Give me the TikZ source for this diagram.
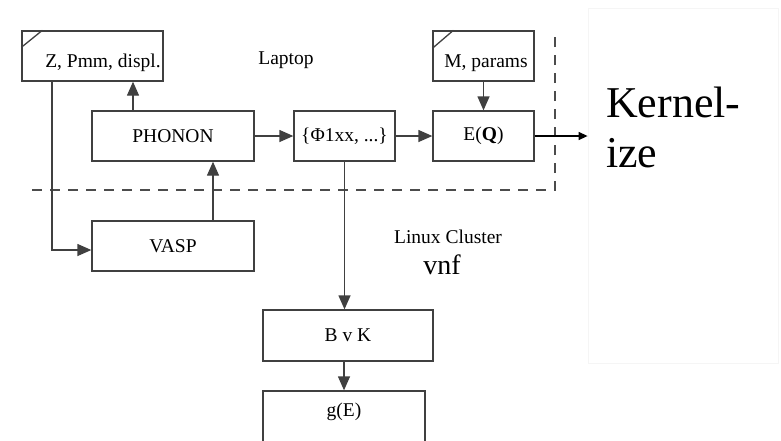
\documentclass[tikz,border=0pt]{standalone}
\usepackage{fontspec}
\setmainfont{Liberation Serif}
\usetikzlibrary{arrows.meta}
\begin{document}
\begin{tikzpicture}[x=1pt,y=-1pt,
  ln/.style={draw=black!75,line width=1.3pt},
  box/.style={ln,rectangle,inner sep=0pt,minimum height=50pt,font=\fontsize{19.5}{22}\selectfont},
  txt/.style={inner sep=0pt,font=\fontsize{19.5}{22}\selectfont},
  arr/.style={ln,-{Triangle[length=14pt,width=12pt]}},
  fence/.style={draw=black!70,line width=1.1pt,dash pattern=on 10pt off 8pt}]
\useasboundingbox (0,0) rectangle (781,440);

% outer panel on the right
\node[draw=black!4,line width=0.8pt,minimum width=190pt,minimum height=355pt,inner sep=0pt] (kern) at (683,185.5) {};
\node[anchor=base west,inner sep=0pt,align=left,font=\fontsize{44}{50}\selectfont] (ktxt) at (606,167) {Kernel-\\ize};

% laptop boxes
\node[box,minimum width=141pt] (zbox) at (92.5,56) {};
\node[txt] (ztxt) at (103,63) {Z, Pmm, displ.};
\node[box,minimum width=101pt] (mbox) at (483.5,56) {};
\node[txt] (mtxt) at (486,63) {M, params};
\node[box,minimum width=162pt] (phonon) at (173,136) {PHONON};
\node[box,minimum width=101pt] (phi) at (344.5,136) {\{Φ1xx, ...\}};
\node[box,minimum width=101pt] (eq) at (483.5,136) {E(\textbf{Q})};

% cluster boxes
\node[box,minimum width=162pt] (vasp) at (173,246) {VASP};
\node[box,minimum width=170pt,minimum height=51pt] (bvk) at (348,335.5) {B v K};
\node[box,minimum width=162pt,minimum height=70pt,text depth=32pt] (ge) at (344,426) {g(E)};

% corner marks of the input boxes
\draw[ln] ([yshift=-17pt]zbox.north west) -- ([xshift=21pt]zbox.north west);
\draw[ln] ([yshift=-18pt]mbox.north west) -- ([xshift=21pt]mbox.north west);

% region labels
\node[txt] (laptop) at (286,60) {Laptop};
\node[txt] (linux) at (448,237) {Linux Cluster};
\node[inner sep=0pt,font=\fontsize{28}{30}\selectfont] (vnf) at (442,265) {vnf};

% boundary between laptop and cluster
\draw[fence] (32,190) -- (555,190) -- (555,32);

% data flow
\draw[arr] ([xshift=-40pt]phonon.north) -- ([xshift=-40pt]phonon.north |- zbox.south);
\draw[arr] (phonon.east) -- (phi.west);
\draw[arr] (phi.east) -- (eq.west);
\draw[arr] (mbox.south) -- (eq.north);
\draw[ln,draw=black,-{Triangle[length=9pt,width=8pt]}] (eq.east) -- (eq.east -| kern.west);
\draw[arr] ([xshift=-40.5pt]zbox.south) |- ([yshift=-4pt]vasp.west);
\draw[arr] ([xshift=40pt]vasp.north) -- ([xshift=40pt]phonon.south);
\draw[arr] (phi.south) -- (phi.south |- bvk.north);
\draw[arr] (ge.north |- bvk.south) -- (ge.north);
\end{tikzpicture}
\end{document}
